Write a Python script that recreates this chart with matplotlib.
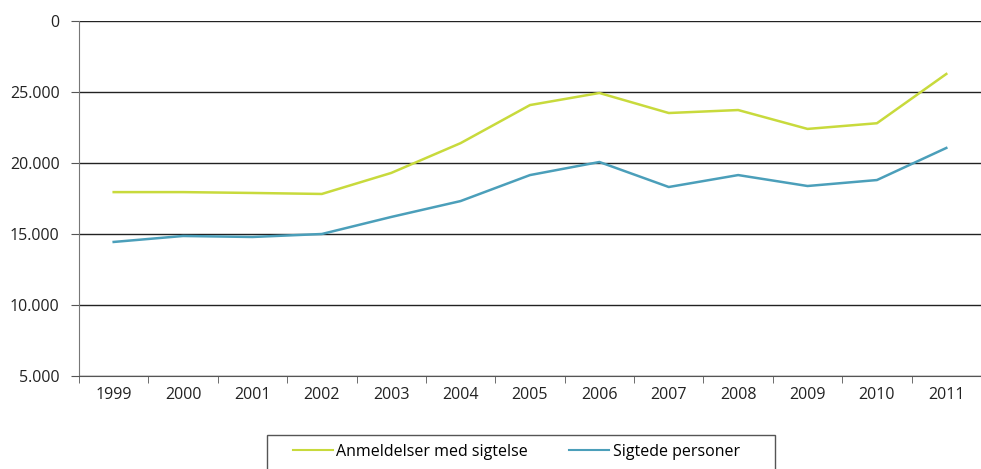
import numpy as np
import matplotlib.pyplot as plt
from matplotlib.ticker import FixedLocator, FixedFormatter
from matplotlib.patches import Rectangle

plt.rcParams['font.family'] = ['Open Sans', 'DejaVu Sans']

years = ['1999', '2000', '2001', '2002', '2003', '2004', '2005',
         '2006', '2007', '2008', '2009', '2010', '2011']
anmeldelser = [17950, 17950, 17890, 17820, 19300, 21400, 24080,
               24930, 23520, 23730, 22400, 22800, 26270]
sigtede = [14440, 14860, 14790, 15000, 16200, 17320, 19150,
           20070, 18310, 19150, 18380, 18800, 21060]
ytick_vals = [5000, 10000, 15000, 20000, 25000, 30000]
ytick_labels = ['5.000', '10.000', '15.000', '20.000', '25.000', '0']

W, H = 981, 469
fig = plt.figure(figsize=(W / 100, H / 100), dpi=100)
ax = fig.add_axes([79 / W, 93 / H, 1 - 79 / W, (376 - 21) / H])

x = np.arange(len(years))
ax.plot(x, anmeldelser, color='#c8da3c', lw=1.8, label='Anmeldelser med sigtelse')
ax.plot(x, sigtede, color='#4b9fba', lw=1.8, label='Sigtede personer')

ax.set_xlim(-0.5, len(years) - 0.5)
ax.set_ylim(5000, 30000)
ax.yaxis.set_major_locator(FixedLocator(ytick_vals))
ax.yaxis.set_major_formatter(FixedFormatter(ytick_labels))
ax.grid(axis='y', color='#222222', lw=1)
ax.set_axisbelow(True)

ax.set_xticks(x)
ax.set_xticklabels(years)
ax.set_xticks(np.arange(-0.5, len(years)), minor=True)
ax.tick_params(axis='x', which='major', length=0, pad=8, labelsize=11.5, colors='#222222')
ax.tick_params(axis='x', which='minor', length=5, color='#555555')
ax.tick_params(axis='y', length=6, color='#555555', labelsize=11.5, labelcolor='#222222', pad=8)

for s in ['top', 'right']:
    ax.spines[s].set_visible(False)
ax.spines['left'].set_color('#777777')
ax.spines['bottom'].set_color('#555555')

# legend box (runs off the bottom of the image like the original)
fig.patches.append(Rectangle((267 / W, -0.05), (775 - 267) / W, 0.05 + 1 - 435 / H,
                             transform=fig.transFigure, fill=False,
                             edgecolor='#555555', lw=1))
leg = fig.legend(loc='center left', bbox_to_anchor=(293 / W, 1 - 452 / H),
                 ncol=2, frameon=False, fontsize=11.5,
                 handlelength=2.5, columnspacing=2.6, borderpad=0,
                 handletextpad=0.2, borderaxespad=0)
for line in leg.get_lines():
    line.set_linewidth(1.5)

fig.savefig('out.png', dpi=100)
